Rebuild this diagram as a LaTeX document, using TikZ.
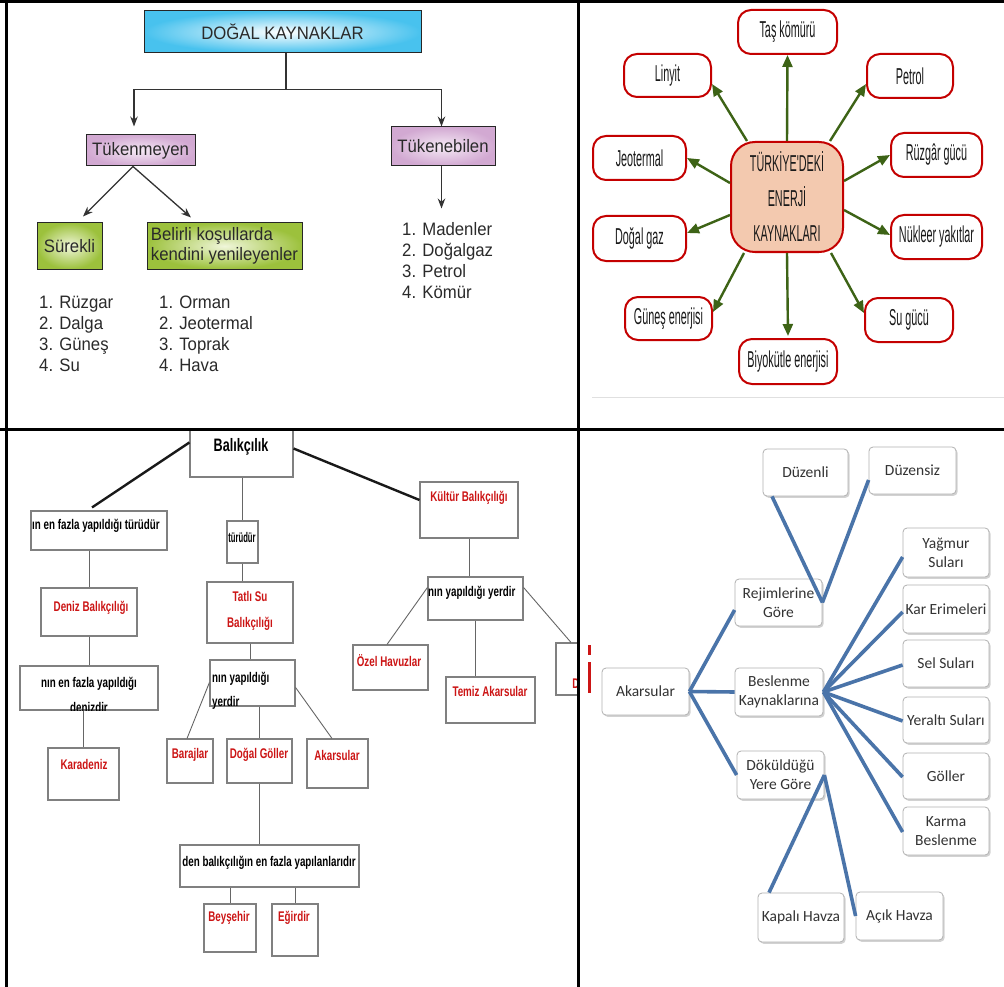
\documentclass[tikz,border=0pt]{standalone}
\usepackage{fontspec}
\usepackage{graphicx}
\setmainfont{Liberation Sans}
\newfontfamily\kfont[FakeStretch=0.93]{Liberation Sans}
\newfontfamily\condfont[FakeStretch=0.47]{Liberation Sans}
\newfontfamily\nbfont[FakeStretch=0.7]{Liberation Sans}
\newfontfamily\calfont{Carlito}
\usetikzlibrary{arrows.meta,shadows}

\definecolor{inktext}{HTML}{2A2A2A}
\definecolor{skyedge}{HTML}{48C2EE}
\definecolor{lilacedge}{HTML}{D2A9D2}
\definecolor{lilacmid}{HTML}{F5EAF5}
\definecolor{leafedge}{HTML}{9CC13C}
\definecolor{leafmid}{HTML}{F0F6DA}
\definecolor{enred}{HTML}{C40000}
\definecolor{peach}{HTML}{F3C9AF}
\definecolor{olive}{HTML}{3D6316}
\definecolor{fishred}{HTML}{CC1515}
\definecolor{steel}{HTML}{4A74A9}

% box given by its corners (x1,y1)-(x2,y2), y growing downwards
\newcommand\boxat[7]{%
  \pgfmathsetmacro\bxw{#5-#3}%
  \pgfmathsetmacro\bxh{#6-#4}%
  \pgfmathsetmacro\bxx{(#3+#5)/2}%
  \pgfmathsetmacro\bxy{(#4+#6)/2}%
  \node[#1,minimum width=\bxw pt,minimum height=\bxh pt] (#2) at (\bxx,\bxy) {#7};}

\begin{document}
\begin{tikzpicture}[x=1pt,y=-1pt,
  kbox/.style={draw=black!85,line width=1pt,inner sep=0pt,align=center,
    font=\kfont\fontsize{18}{20}\selectfont,text=inktext},
  karrow/.style={draw=black!80,line width=1.3pt,-{Stealth[length=10pt,width=7.5pt]}},
  klist/.style={anchor=base west,inner sep=0pt,font=\kfont\fontsize{18}{20}\selectfont,text=inktext},
  ebox/.style={draw=enred,line width=2pt,fill=white,rounded corners=13pt,inner sep=0pt,
    font=\condfont\fontsize{23}{27}\selectfont,text=black!90},
  earrow/.style={draw=olive,line width=2.4pt,-{Triangle[length=12pt,width=10pt]}},
  fbox/.style={draw=black!50,line width=1.1pt,fill=white,inner sep=0pt},
  ftext/.style={inner sep=0pt,font=\nbfont\bfseries\fontsize{14}{16}\selectfont,text=black},
  fred/.style={ftext,text=fishred},
  fthin/.style={draw=black!60,line width=0.9pt},
  fthick/.style={draw=black!90,line width=2.4pt},
  rbox/.style={draw=black!30,line width=0.8pt,fill=white,rounded corners=4pt,inner sep=0pt,
    align=center,font=\calfont\fontsize{15.5}{19}\selectfont,text=black!80,
    drop shadow={shadow xshift=1.6pt,shadow yshift=-1.8pt,opacity=0.35}},
  bline/.style={draw=steel,line width=3.6pt}
]
\useasboundingbox (0,0) rectangle (1004,987);
\fill[white] (0,0) rectangle (1004,987);

% ---------- Doğal kaynaklar ----------
\boxat{kbox,inner color=white,outer color=skyedge}{dogal}{144}{11}{421}{53}{DOĞAL KAYNAKLAR}
\boxat{kbox,inner color=lilacmid,outer color=lilacedge}{tukm}{86}{135}{195}{166}{Tükenmeyen}
\boxat{kbox,inner color=lilacmid,outer color=lilacedge}{tuke}{391}{127}{495}{166}{Tükenebilen}
\boxat{kbox,inner color=leafmid,outer color=leafedge}{surekli}{37}{223}{102}{269}{Sürekli}
\boxat{kbox,inner color=leafmid,outer color=leafedge,align=left}{belirli}{147}{223}{302}{269}{Belirli koşullarda\\kendini yenileyenler}

\draw[karrow] ([xshift=3.5pt]dogal.south) -- ++(0,36) -| ([xshift=-6.5pt,yshift=8pt]tukm.north);
\draw[karrow] ([xshift=3.5pt]dogal.south) -- ++(0,36) -| ([xshift=-1.5pt]tuke.north);
\draw[karrow] ([xshift=-7.5pt]tukm.south) -- ([xshift=13.5pt,yshift=6pt]surekli.north);
\draw[karrow] ([xshift=-7.5pt]tukm.south) -- ([xshift=-33.5pt,yshift=5pt]belirli.north);
\draw[karrow] ([xshift=-1.5pt]tuke.south) -- ++(0,42);

\foreach \t [count=\i] in {Rüzgar,Dalga,Güneş,Su}
  \node[klist] (ra\i) at (39,{287+21*\i}) {\i. \t};
\foreach \t [count=\i] in {Orman,Jeotermal,Toprak,Hava}
  \node[klist] (rb\i) at (159,{287+21*\i}) {\i. \t};
\foreach \t [count=\i] in {Madenler,Doğalgaz,Petrol,Kömür}
  \node[klist] (rc\i) at (402,{215.3+20.7*\i}) {\i. \t};

% ---------- Enerji kaynakları ----------
\boxat{ebox,fill=peach,rounded corners=24pt,align=center,font=\condfont\fontsize{23}{35}\selectfont}{enc}{731}{142}{843}{252}{TÜRKİYE'DEKİ\\ENERJİ\\KAYNAKLARI}
\boxat{ebox}{tas}{738}{10}{837}{54}{Taş kömürü}
\boxat{ebox}{linyit}{624}{54}{711}{97}{Linyit}
\boxat{ebox}{petrol}{867}{54}{953}{98}{Petrol}
\boxat{ebox}{jeo}{593}{136}{686}{180}{Jeotermal}
\boxat{ebox}{ruz}{891}{133}{982}{177}{Rüzgâr gücü}
\boxat{ebox}{dgaz}{593}{216}{686}{261}{Doğal gaz}
\boxat{ebox}{nuk}{891}{215}{982}{259}{Nükleer yakıtlar}
\boxat{ebox}{gunes}{625}{297}{712}{340}{Güneş enerjisi}
\boxat{ebox}{sugucu}{865}{298}{953}{342}{Su gücü}
\boxat{ebox}{biyo}{739}{339}{837}{384}{Biyokütle enerjisi}

\draw[earrow] (enc.north) -- (tas.south);
\draw[earrow] ([xshift=-40pt]enc.north) -- ([yshift=-8.5pt]linyit.east);
\draw[earrow] ([xshift=43pt]enc.north) -- ([yshift=-8pt]petrol.west);
\draw[earrow] ([yshift=14pt]enc.west) -- (jeo.east);
\draw[earrow] ([yshift=16pt]enc.east) -- (ruz.west);
\draw[earrow] ([yshift=-18pt]enc.west) -- ([yshift=5.5pt]dgaz.east);
\draw[earrow] ([yshift=-13pt]enc.east) -- ([yshift=2pt]nuk.west);
\draw[earrow] ([xshift=-43pt]enc.south) -- ([yshift=6.5pt]gunes.east);
\draw[earrow] (enc.south) -- ([yshift=2pt]biyo.north);
\draw[earrow] ([xshift=44pt]enc.south) -- ([yshift=7pt]sugucu.west);

\draw[black!12,line width=0.8pt] (592,397) -- (1004,397);

% ---------- Balıkçılık ----------
\boxat{fbox}{bal}{190}{430}{293}{477}{}
\node[ftext,font=\nbfont\bfseries\fontsize{18}{20}\selectfont] (balt) at (241,447) {Balıkçılık};
\boxat{fbox}{tur1}{31}{511}{167}{550}{}
\node[ftext,anchor=west] (tur1t) at (32,526) {ın en fazla yapıldığı türüdür};
\boxat{fbox}{turu}{227}{521}{258}{563}{}
\node[ftext] (turut) at (242,537) {\scalebox{0.78}[1]{türüdür}};
\boxat{fbox}{deniz}{41}{588}{137}{636}{}
\node[fred] (denizt) at (91,608) {Deniz Balıkçılığı};
\boxat{fbox}{tatli}{207}{582}{293}{643}{}
\node[fred,align=center,font=\nbfont\bfseries\fontsize{14}{26}\selectfont] (tatlit) at (250,611) {Tatlı Su\\Balıkçılığı};
\boxat{fbox}{kult}{420}{482}{518}{538}{}
\node[fred] (kultt) at (469,498) {Kültür Balıkçılığı};
\boxat{fbox}{yer1}{428}{577}{523}{620}{}
\node[ftext,anchor=west] (yer1t) at (428,593) {nın yapıldığı yerdir};
\boxat{fbox}{ozel}{353}{645}{428}{690}{}
\node[fred] (ozelt) at (389,661) {Özel Havuzlar};
\boxat{fbox}{temiz}{446}{677}{535}{723}{}
\node[fred] (temizt) at (490,691) {Temiz Akarsular};
\begin{scope}
  \clip (540,600) rectangle (578,720);
  \boxat{fbox}{cut}{556}{643}{586}{695}{}
  \node[fred] (cutt) at (576,684) {D};
\end{scope}
\boxat{fbox}{den1}{20}{666}{158}{710}{}
\node[ftext] (den1t) at (89,684) {nın en fazla yapıldığı};
\begin{scope}
  \clip (20,690) rectangle (158,710.5);
  \node[ftext,anchor=base] (den1u) at (89,712) {denizdir};
\end{scope}
\boxat{fbox}{kara}{48}{748}{119}{800}{}
\node[fred] (karat) at (84,764) {Karadeniz};
\boxat{fbox}{yer2}{210}{660}{295}{706}{}
\node[ftext,anchor=base west] (yer2t) at (212,682) {nın yapıldığı};
\node[ftext,anchor=base west] (yer2u) at (212,706) {yerdir};
\boxat{fbox}{baraj}{167}{739}{213}{783}{}
\node[fred] (barajt) at (190,755) {Barajlar};
\boxat{fbox}{dgol}{227}{739}{292}{783}{}
\node[fred] (dgolt) at (259,755) {Doğal Göller};
\boxat{fbox}{akr}{307}{739}{368}{788}{}
\node[fred] (akrt) at (337,755) {Akarsular};
\boxat{fbox}{den2}{180}{845}{359}{887}{}
\node[ftext] (den2t) at (269,863) {den balıkçılığın en fazla yapılanlarıdır};
\boxat{fbox}{beys}{204}{904}{256}{952}{}
\node[fred] (beyst) at (229,918) {Beyşehir};
\boxat{fbox}{egir}{272}{904}{318}{956}{}
\node[fred] (egirt) at (294,918) {Eğirdir};

\draw[fthick] ([yshift=-13pt]bal.north west) -- ([xshift=-7pt,yshift=3pt]tur1.north);
\draw[fthick] ([yshift=5pt]bal.east) -- ([yshift=10pt]kult.west);
\draw[fthin] (bal.south -| turu.north) -- (turu.north);
\draw[fthin] (turu.south) -- (turu.south |- tatli.north);
\draw[fthin] (tur1.south -| deniz.north) -- (deniz.north);
\draw[fthin] (deniz.south) -- (deniz.south |- den1.north);
\draw[fthin] (kara.north |- den1.south) -- (kara.north);
\draw[fthin] (tatli.south) -- (tatli.south |- yer2.north);
\draw[fthin] ([yshift=-23pt]yer2.north west) -- ([xshift=-3pt]baraj.north);
\draw[fthin] (dgol.north |- yer2.south) -- (dgol.north);
\draw[fthin] ([yshift=-28pt]yer2.north east) -- ([xshift=-5.5pt]akr.north);
\draw[fthin] (dgol.south) -- (dgol.south |- den2.north);
\draw[fthin] (beys.north |- den2.south) -- (beys.north);
\draw[fthin] (egir.north |- den2.south) -- (egir.north);
\draw[fthin] (kult.south) -- (kult.south |- yer1.north);
\draw[fthin] ([yshift=-11pt]yer1.north west) -- ([xshift=-3.5pt]ozel.north);
\draw[fthin] (yer1.south) -- (yer1.south |- temiz.north);
\draw[fthin] ([yshift=-11pt]yer1.north east) -- (cut.north);

% ---------- Akarsular ----------
\fill[fishred] (588,645) rectangle (591,655);
\fill[fishred] (588,662) rectangle (591,693);

\boxat{rbox}{duzl}{763}{449}{848}{496}{Düzenli}
\boxat{rbox}{duzs}{869}{447}{956}{494}{Düzensiz}
\boxat{rbox}{rejim}{735}{579}{822}{626}{Rejimlerine\\Göre}
\boxat{rbox}{yagmur}{903}{528}{989}{577}{Yağmur\\Suları}
\boxat{rbox}{kar}{903}{585}{989}{633}{Kar Erimeleri}
\boxat{rbox}{sel}{903}{640}{989}{687}{Sel Suları}
\boxat{rbox}{akarsu}{602}{668}{689}{715}{Akarsular}
\boxat{rbox}{besl}{735}{668}{823}{716}{Beslenme\\Kaynaklarına}
\boxat{rbox}{yeralti}{903}{697}{989}{743}{Yeraltı Suları}
\boxat{rbox}{goller}{903}{753}{989}{799}{Göller}
\boxat{rbox}{karma}{903}{807}{989}{855}{Karma\\Beslenme}
\boxat{rbox}{dokul}{737}{751}{824}{799}{Döküldüğü\\Yere Göre}
\boxat{rbox}{kapali}{758}{893}{844}{942}{Kapalı Havza}
\boxat{rbox}{acik}{856}{892}{943}{940}{Açık Havza}

\draw[bline] (akarsu.east) -- ([yshift=-7.5pt]rejim.west);
\draw[bline] (akarsu.east) -- (besl.west);
\draw[bline] (akarsu.east) -- (dokul.west);
\foreach \n/\s in {yagmur/-4.5,kar/-3,sel/-1.5,yeralti/-1,goller/-1,karma/-1}
  \draw[bline] (besl.east) -- ([yshift=\s pt]\n.west);
\draw[bline] (rejim.east) -- ([xshift=-33.5pt]duzl.south);
\draw[bline] (rejim.east) -- ([yshift=-9.5pt]duzs.west);
\draw[bline] (dokul.east) -- ([xshift=-32pt]kapali.north);
\draw[bline] (dokul.east) -- (acik.west);

% ---------- frame ----------
\draw[line width=3pt] (0,1.5) -- (1004,1.5);
\draw[line width=3pt] (6,0) -- (6,987);
\draw[line width=3pt] (578,0) -- (578,987);
\draw[line width=3pt] (0,429) -- (1004,429);
\end{tikzpicture}
\end{document}
